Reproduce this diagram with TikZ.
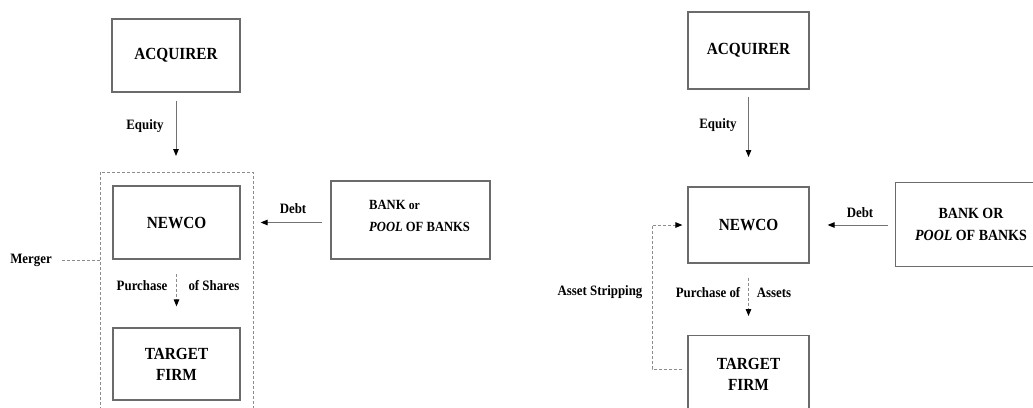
\documentclass[tikz,border=0pt]{standalone}
\usepackage{fontspec}
\newfontfamily\cfont{Liberation Serif}[FakeStretch=0.9]
\usetikzlibrary{arrows.meta,calc}
\definecolor{boxgray}{gray}{0.42}
\definecolor{linegray}{gray}{0.45}
\definecolor{dashgray}{gray}{0.55}
\tikzset{
  boxnode/.style={draw=boxgray, line width=1.2pt, inner sep=0pt, align=center,
    font=\cfont\bfseries\fontsize{17}{21}\selectfont},
  banktext/.style={align=center, inner sep=0pt, font=\cfont\bfseries\fontsize{14}{22}\selectfont},
  lbl/.style={inner sep=2pt, font=\cfont\bfseries\fontsize{14.3}{16}\selectfont},
  arr/.style={draw=linegray, line width=1pt, -{Triangle[length=7pt,width=5.5pt,color=black]}},
  dasharr/.style={draw=dashgray, line width=1pt, dash pattern=on 3pt off 2pt,
    -{Triangle[length=7pt,width=5.5pt,color=black]}},
  dashline/.style={draw=dashgray, line width=1pt, dash pattern=on 3pt off 2pt}
}
\begin{document}
\begin{tikzpicture}[x=1pt,y=-1pt]
\useasboundingbox (0,0) rectangle (1033,407);
\clip (0,0) rectangle (1033,407);
% ---------- left diagram ----------
\node[boxnode, minimum width=128, minimum height=73] (ACQ1) at (176,55.5) {ACQUIRER};
\node[boxnode, minimum width=127, minimum height=73] (NEW1) at (176.5,222.5) {NEWCO};
\node[boxnode, minimum width=127, minimum height=72] (TGT1) at (176.5,364) {TARGET\\FIRM};
\node[draw=boxgray, line width=1.2pt, minimum width=159, minimum height=78, inner sep=0pt] (BANK1) at (410.5,220) {};
\node[banktext, align=left, anchor=west] (BT1) at (369,215.5) {BANK {\fontsize{13}{22}\selectfont or}\\\textit{POOL} OF BANKS};
\coordinate (eq1) at (176,156);
\draw[arr] ([yshift=-8pt]ACQ1.south) -- (eq1);
\node[lbl] (leq1) at (145,126) {Equity};
\draw[arr, shorten <=8pt, shorten >=20pt] (BANK1.west |- NEW1.east) -- (NEW1.east);
\node[lbl] (ldebt1) at (293,209) {Debt};
\draw[dasharr, shorten <=14pt, shorten >=21pt] (NEW1.south) -- (TGT1.north);
\node[lbl] (lpur1) at (142,286) {Purchase};
\node[lbl] (lsh1) at (214,286) {of Shares};
\coordinate (mg) at (100,260);
\draw[dashline] (100,415) -- (100,172) -- (253,172) -- (253,415);
\node[lbl] (merger) at (31,260) {Merger};
\draw[dashline] ([xshift=8pt]merger.east) -- (mg);
% ---------- right diagram ----------
\node[boxnode, minimum width=121, minimum height=77] (ACQ2) at (748.5,50.5) {ACQUIRER};
\node[boxnode, minimum width=121, minimum height=76] (NEW2) at (748.5,225) {NEWCO};
\node[boxnode, minimum width=121, minimum height=90, anchor=north] (TGT2) at (748.5,335) {};
\node[boxnode, draw=none] (TT2) at (748.5,374) {TARGET\\FIRM};
\node[draw=boxgray, line width=1.2pt, minimum width=160, minimum height=84, inner sep=0pt, anchor=north west] (BANK2) at (895,182) {};
\node[banktext, font=\cfont\bfseries\fontsize{15.5}{22}\selectfont] (BT2) at (971,224) {BANK OR\\\textit{POOL} OF BANKS};
\coordinate (eq2) at (748.5,157);
\draw[arr] ([yshift=-7pt]ACQ2.south) -- (eq2);
\node[lbl] (leq2) at (718,125) {Equity};
\draw[arr, shorten <=7pt, shorten >=18pt] (BANK2.west |- NEW2.east) -- (NEW2.east);
\node[lbl] (ldebt2) at (860,213) {Debt};
\draw[dasharr, shorten <=14pt, shorten >=19pt] (NEW2.south) -- (TGT2.north);
\node[lbl] (lpur2) at (708,293) {Purchase of};
\node[lbl] (las2) at (774,293) {Assets};
\draw[dasharr] ([xshift=-5pt,yshift=-34pt]TGT2.north west) -| ([xshift=-35pt]NEW2.west) -- ([xshift=-5pt]NEW2.west);
\node[lbl] (lstrip) at (600,292) {Asset Stripping};
\end{tikzpicture}
\end{document}
